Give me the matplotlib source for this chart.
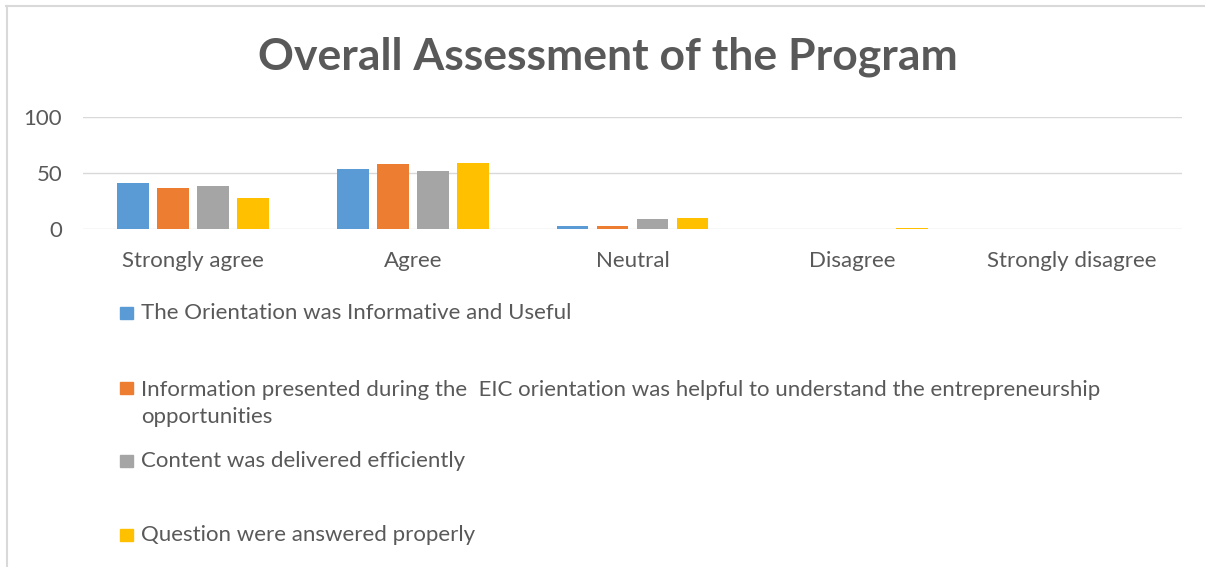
import numpy as np
import matplotlib.pyplot as plt
from matplotlib.patches import Rectangle
from matplotlib.lines import Line2D

plt.rcParams['font.family'] = ['Lato', 'DejaVu Sans']

# data
categories = ['Strongly agree', 'Agree', 'Neutral', 'Disagree', 'Strongly disagree']
series_labels = [
    'The Orientation was Informative and Useful',
    'Information presented during the  EIC orientation was helpful to understand the entrepreneurship\nopportunities',
    'Content was delivered efficiently',
    'Question were answered properly',
]
informative = [41, 54, 3, 0, 0]
helpful = [37, 58, 3, 0, 0]
efficient = [38, 52, 9, 0.4, 0]
answered = [28, 59, 10, 1, 0]
yticks = [0, 50, 100]

colors = ['#5B9BD5', '#ED7D31', '#A5A5A5', '#FFC000']
text_col = '#595959'
W, H = 1205, 567

fig = plt.figure(figsize=(W / 100, H / 100), dpi=100)
ax = fig.add_axes([83 / W, 1 - 229 / H, (1182 - 83) / W, (229 - 117) / H])

x = np.arange(len(categories))
width = 0.145
step = 0.182
all_series = [informative, helpful, efficient, answered]
for i, vals in enumerate(all_series):
    ax.bar(x + (i - 1.5) * step, vals, width, color=colors[i], zorder=3)

ax.set_xlim(-0.5, len(categories) - 0.5)
ax.set_ylim(0, 100)
ax.set_yticks(yticks)
ax.set_xticks(x)
ax.set_xticklabels(categories)
ax.tick_params(axis='both', length=0, labelsize=16, colors=text_col)
ax.tick_params(axis='x', pad=16)
ax.tick_params(axis='y', pad=15)
ax.grid(axis='y', color='#D9D9D9', linewidth=1, zorder=0)
for s in ax.spines.values():
    s.set_visible(False)

fig.text(608 / W, 1 - 57 / H, 'Overall Assessment of the Program', ha='center', va='center',
         fontsize=32, fontweight='bold', color=text_col)

# legend, drawn by hand to keep the uneven spacing
legend_y = [313, 388, 461, 535]
for i, lab in enumerate(series_labels):
    y = legend_y[i]
    fig.add_artist(Rectangle((120 / W, 1 - (y + 6) / H), 13 / W, 12 / H,
                             transform=fig.transFigure, color=colors[i]))
    if '\n' in lab:
        fig.text(141 / W, 1 - (y - 8) / H, lab, ha='left', va='top',
                 fontsize=16, color=text_col, linespacing=1.45)
    else:
        fig.text(141 / W, 1 - y / H, lab, ha='left', va='center',
                 fontsize=16, color=text_col)

# chart border (top and left visible)
fig.add_artist(Line2D([6 / W, 1], [1 - 6 / H, 1 - 6 / H], color='#D9D9D9', lw=1.5, transform=fig.transFigure))
fig.add_artist(Line2D([7 / W, 7 / W], [0, 1 - 6 / H], color='#D9D9D9', lw=1.5, transform=fig.transFigure))

fig.savefig('out.png', dpi=100)
